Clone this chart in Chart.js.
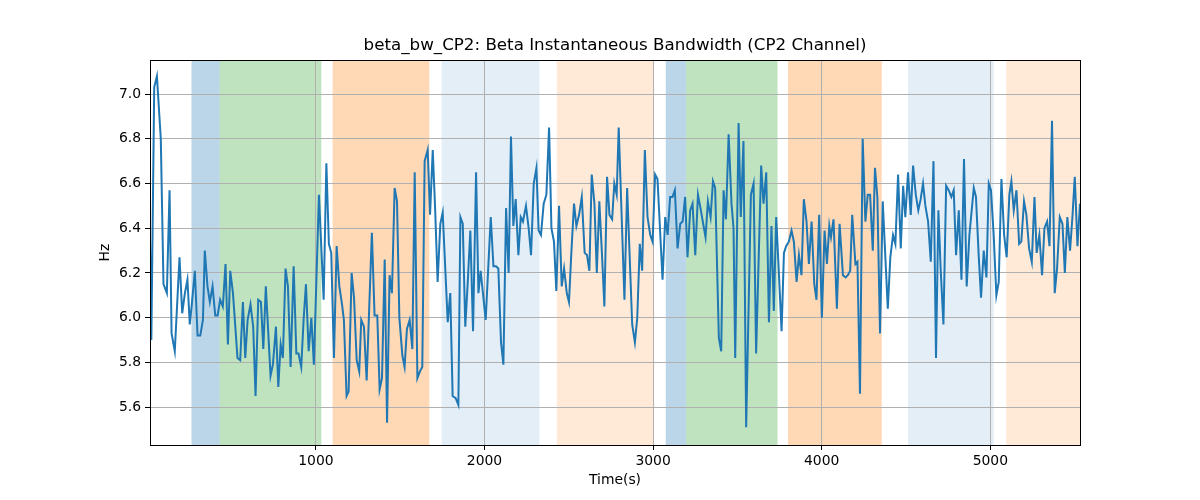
<!DOCTYPE html>
<html>
<head>
<meta charset="utf-8">
<title>beta_bw_CP2</title>
<script src="https://cdn.jsdelivr.net/npm/chart.js@4.4.1/dist/chart.umd.min.js"></script>
<style>
  html, body { margin: 0; padding: 0; background: #fff; }
  #wrap { width: 1200px; height: 500px; }
</style>
</head>
<body>
<div id="wrap"><canvas id="bwChart" width="1200" height="500"></canvas></div>
<script>
// sample times (s)
const times = [
  16,24,41,57,80,96,116,132,144,163,191,207,223,238,252,264,282,298,314,330,341,357,371,387,403,417,432,448,464,478,492,508,535,551,567,581,595,612,628,642,658,674,688,703,
  731,745,763,777,791,804,820,834,850,868,884,897,913,927,941,957,973,988,1018,1046,1062,1077,1091,1107,1123,1139,1155,1166,1182,1194,1212,1226,1242,1257,1269,1285,1301,1332,1348,1364,1378,1392,1408,
  1422,1437,1451,1467,1481,1495,1513,1526,1540,1556,1572,1586,1602,1617,1631,1645,1663,1677,1693,1707,1722,1738,1752,1782,1797,1811,1829,1845,1857,1871,1886,1900,1916,1932,1950,1964,1977,2007,2037,2053,2068,2082,2098,
  2112,2128,2143,2157,2171,2185,2201,2215,2228,2246,2262,2276,2292,2308,2321,2335,2351,2367,2383,2397,2412,2426,2442,2458,2472,2488,2501,2515,2531,2545,2561,2577,2594,2608,2622,2636,2652,2666,2681,2697,2711,2727,2741,2757,2770,2784,2796,
  2830,2846,2876,2892,2906,2921,2935,2951,2967,2983,2997,3012,3026,3056,3072,3086,3101,3115,3129,3145,3161,3175,3190,3204,3220,3234,3250,3266,3281,3297,3311,3325,3341,3355,3368,3390,3404,3418,3432,3448,3465,3477,3487,
  3507,3520,3536,3552,3580,3596,3611,3641,3655,3671,3687,3702,3716,3730,3746,3762,3776,3789,3805,3821,3835,3851,3865,3880,3894,3910,3924,3940,3956,3969,3985,4001,4017,4031,4045,4055,4070,4090,4106,4126,4142,4155,4169,4181,
  4200,4212,4227,4243,4259,4273,4287,4303,4316,4330,4346,4362,4392,4407,4423,4437,4453,4469,4483,4496,4512,4528,4542,4558,4573,4587,4601,4615,4631,4647,4663,4678,4692,4706,4722,4738,4753,4769,4783,4797,4813,4829,4844,4860,4876,
  4902,4915,4931,4945,4961,4977,4991,5004,5020,5036,5050,5066,5082,5097,5113,5125,5139,5155,5171,5184,5200,5214,5230,5246,5262,5275,5291,5307,5321,5337,5351,5366,5382,5396,5412,5428,5442,5457,5473,5487,5501,5517,5532
];

// instantaneous bandwidth (Hz)
const bandwidth = [
  6.35,5.90,7.03,7.08,6.80,6.15,6.11,6.57,5.93,5.85,6.27,6.02,6.11,6.17,5.97,6.06,6.21,5.92,5.92,5.99,6.30,6.14,6.07,6.14,6.01,6.01,6.08,6.05,6.24,5.88,6.21,6.11,5.82,5.81,6.07,5.82,5.99,6.06,5.96,5.65,6.08,6.07,5.86,6.14,
  5.74,5.79,5.96,5.69,5.88,5.82,6.22,6.14,5.78,6.23,5.84,5.84,5.78,5.99,6.15,5.85,6.00,5.79,6.55,6.08,6.69,6.33,6.29,5.82,6.32,6.14,6.06,5.99,5.65,5.67,6.20,6.09,5.81,5.76,5.99,5.96,5.72,6.38,6.01,6.01,5.68,5.73,6.26,
  5.53,6.19,6.11,6.58,6.52,6.00,5.83,5.78,5.95,5.99,5.86,6.65,5.73,5.76,5.78,6.70,6.75,6.46,6.75,6.49,6.16,6.42,6.47,5.98,6.11,5.65,5.64,5.61,6.45,6.42,5.96,6.15,6.39,5.94,6.65,6.11,6.21,5.99,6.45,6.23,6.23,6.22,5.89,
  5.79,6.49,6.20,6.81,6.41,6.53,6.28,6.45,6.43,6.50,6.40,6.28,6.60,6.67,6.39,6.37,6.51,6.55,6.85,6.40,6.34,6.12,6.50,6.14,6.22,6.11,6.07,6.29,6.51,6.41,6.46,6.54,6.29,6.28,6.21,6.64,6.51,6.20,6.52,6.28,6.05,6.63,6.46,6.44,6.60,6.55,6.85,
  6.08,6.58,5.97,5.89,6.00,6.33,6.21,6.75,6.45,6.37,6.34,6.64,6.62,6.17,6.45,6.37,6.54,6.54,6.57,6.31,6.42,6.43,6.54,6.27,6.48,6.51,6.28,6.55,6.49,6.42,6.36,6.52,6.45,6.61,6.58,5.91,5.85,6.57,6.44,6.82,6.51,6.40,5.82,
  6.87,6.45,6.79,5.51,6.55,6.60,5.84,6.68,6.51,6.65,5.98,6.41,6.03,6.45,6.20,5.94,6.29,6.32,6.34,6.39,6.34,6.16,6.28,6.19,6.53,6.43,6.24,6.43,6.15,6.08,6.46,6.00,6.39,6.24,6.41,6.36,6.44,6.04,6.42,6.19,6.18,6.19,6.21,6.46,
  6.24,6.25,5.66,6.80,6.43,6.55,6.55,6.30,6.67,6.54,5.93,6.52,6.04,6.27,6.37,6.33,6.64,6.31,6.59,6.45,6.65,6.46,6.68,6.55,6.48,6.53,6.60,6.50,6.43,6.25,6.70,5.82,6.48,6.21,5.97,6.59,6.57,6.54,6.57,6.28,6.48,6.17,6.71,6.14,6.37,
  6.58,6.54,6.28,6.09,6.30,6.18,6.60,6.57,6.37,6.10,6.16,6.62,6.37,6.27,6.55,6.61,6.48,6.57,6.33,6.34,6.52,6.46,6.31,6.25,6.54,6.29,6.37,6.19,6.40,6.43,6.32,6.88,6.11,6.22,6.45,6.42,6.20,6.45,6.30,6.45,6.63,6.32,6.51
];

// shaded segments: start, end, colour
const spanStart = [262, 430, 1099, 1746, 2429, 3075, 3196, 3800, 4512, 5094];
const spanEnd   = [430, 1032, 1673, 2326, 3002, 3196, 3738, 4356, 5020, 5532];
const spanColor = [
  "rgba(31,119,180,0.3)", "rgba(44,160,44,0.3)", "rgba(255,127,14,0.3)",
  "rgba(31,119,180,0.12)", "rgba(255,127,14,0.16)",
  "rgba(31,119,180,0.3)", "rgba(44,160,44,0.3)", "rgba(255,127,14,0.3)",
  "rgba(31,119,180,0.12)", "rgba(255,127,14,0.16)"
];

const xTicks = [1000, 2000, 3000, 4000, 5000];
const yTicks = [5.6, 5.8, 6.0, 6.2, 6.4, 6.6, 6.8, 7.0];

const X_MIN = 16, X_MAX = 5532;
const Y_MIN = 5.431, Y_MAX = 7.152;

const points = times.map((t, i) => ({ x: t, y: bandwidth[i] }));

// draws the coloured bands behind the grid, and the box round the plot
const spansPlugin = {
  id: "spans",
  beforeDraw(chart) {
    const { ctx, chartArea, scales } = chart;
    ctx.save();
    for (let i = 0; i < spanStart.length; i++) {
      let a = scales.x.getPixelForValue(spanStart[i]);
      let b = scales.x.getPixelForValue(spanEnd[i]);
      a = Math.max(a, chartArea.left);
      b = Math.min(b, chartArea.right);
      ctx.fillStyle = spanColor[i];
      ctx.fillRect(a, chartArea.top, b - a, chartArea.bottom - chartArea.top);
    }
    ctx.restore();
  },
  afterDraw(chart) {
    const { ctx, chartArea } = chart;
    ctx.save();
    ctx.strokeStyle = "#000";
    ctx.lineWidth = 1;
    ctx.strokeRect(Math.round(chartArea.left) + 0.5, Math.round(chartArea.top) + 0.5,
      Math.round(chartArea.right - chartArea.left), Math.round(chartArea.bottom - chartArea.top));
    ctx.restore();
  }
};

const font = "'DejaVu Sans', sans-serif";

new Chart(document.getElementById("bwChart"), {
  type: "line",
  data: {
    datasets: [{
      label: "beta_bw_CP2",
      data: points,
      borderColor: "#1f77b4",
      borderWidth: 2,
      pointRadius: 0,
      tension: 0,
      fill: false
    }]
  },
  options: {
    responsive: false,
    devicePixelRatio: 1,
    animation: false,
    layout: { padding: { left: 88, right: 120, top: 0, bottom: 10 } },
    plugins: {
      legend: { display: false },
      tooltip: { enabled: false },
      title: {
        display: true,
        fullSize: false,
        text: "beta_bw_CP2: Beta Instantaneous Bandwidth (CP2 Channel)",
        color: "#000",
        font: { family: font, size: 16.7, weight: "normal" },
        padding: { top: 36, bottom: 4 }
      }
    },
    scales: {
      x: {
        type: "linear",
        min: X_MIN,
        max: X_MAX,
        afterBuildTicks: s => { s.ticks = xTicks.map(v => ({ value: v })); },
        afterFit: s => { s.height = 45; },
        ticks: {
          color: "#000",
          font: { family: font, size: 13.9 },
          padding: 3,
          maxRotation: 0,
          callback: v => String(v)
        },
        grid: { color: "#b0b0b0", lineWidth: 1, tickLength: 5, tickColor: "#000" },
        border: { display: false },
        title: {
          display: true,
          text: "Time(s)",
          color: "#000",
          font: { family: font, size: 13.9 },
          padding: { top: 0, bottom: 1 }
        }
      },
      y: {
        min: Y_MIN,
        max: Y_MAX,
        afterBuildTicks: s => { s.ticks = yTicks.map(v => ({ value: v })); },
        afterFit: s => { s.width = 62; },
        ticks: {
          color: "#000",
          font: { family: font, size: 13.9 },
          padding: 4,
          callback: v => Number(v).toFixed(1)
        },
        grid: { color: "#b0b0b0", lineWidth: 1, tickLength: 5, tickColor: "#000" },
        border: { display: false },
        title: {
          display: true,
          text: "Hz",
          color: "#000",
          font: { family: font, size: 13.9 },
          padding: { top: 9, bottom: 0 }
        }
      }
    }
  },
  plugins: [spansPlugin]
});
</script>
</body>
</html>
